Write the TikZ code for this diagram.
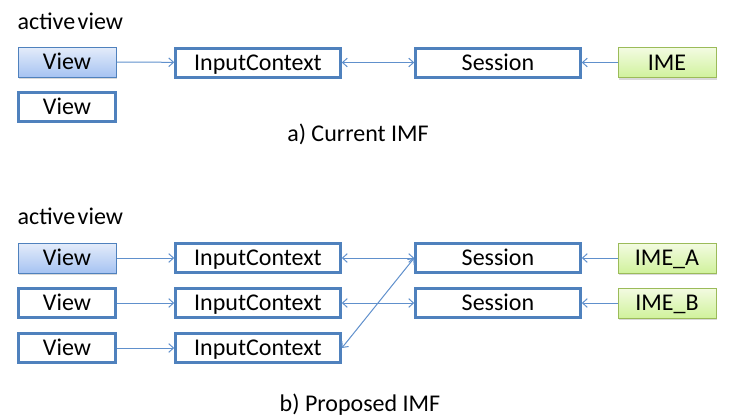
\documentclass[tikz,border=0pt]{standalone}
\usepackage{fontspec}
\setmainfont{Carlito}
\usetikzlibrary{arrows.meta,shadows}

\definecolor{boxblue}{HTML}{4F81BD}
\definecolor{linkblue}{HTML}{6090CC}
\definecolor{viewtop}{HTML}{E4ECFA}
\definecolor{viewbot}{HTML}{A6C3F2}
\definecolor{imetop}{HTML}{F3FBE2}
\definecolor{imebot}{HTML}{D0F29C}
\definecolor{imeline}{HTML}{9BBB59}

\tikzset{
  boxtext/.style={inner sep=0pt, text height=11.6pt, text depth=0pt},
  plainbox/.style={boxtext, draw=boxblue, line width=2.25pt, fill=white,
    minimum height=21.75pt},
  smallbox/.style={plainbox, minimum width=72.3pt},
  widebox/.style={plainbox, minimum width=123.5pt},
  activebox/.style={boxtext, draw=boxblue, line width=0.75pt, top color=viewtop,
    bottom color=viewbot, minimum width=73.5pt, minimum height=22.5pt,
    drop shadow={shadow xshift=1pt, shadow yshift=-1.5pt, opacity=0.3}},
  imebox/.style={boxtext, draw=imeline, line width=0.75pt, top color=imetop,
    bottom color=imebot, minimum width=73.5pt, minimum height=22.5pt,
    drop shadow={shadow xshift=1pt, shadow yshift=-1.5pt, opacity=0.3}},
  link/.style={draw=linkblue, line width=0.75pt},
  oneway/.style={link, -{Straight Barb[length=3.5pt,width=6.5pt]}},
  twoway/.style={link, {Straight Barb[length=3.5pt,width=6.5pt]}-{Straight Barb[length=3.5pt,width=6.5pt]}}
}

\begin{document}
\begin{tikzpicture}[x=0.75pt, y=-0.75pt, font=\fontsize{18}{21}\selectfont]
    \useasboundingbox (0,0) rectangle (735,418);

    % a) Current IMF
    \node[anchor=base west] (actA) at (13,29) {active\hspace{0.1em}view};
    \node[activebox] (viewA) at (67,62) {View};
    \node[smallbox] (viewB) at (67,107) {View};
    \node[widebox] (ctxA) at (258,62.5) {InputContext};
    \node[widebox] (sesA) at (498,62.5) {Session};
    \node[imebox] (ime) at (667,62.5) {IME};
    \node[anchor=base] (capA) at (358,141) {a) Current IMF};

    \draw[oneway] (viewA) -- (ctxA);
    \draw[twoway] (ctxA) -- (sesA);
    \draw[oneway] (ime) -- (sesA);

    % b) Proposed IMF
    \node[anchor=base west] (actB) at (13,224) {active\hspace{0.1em}view};
    \node[activebox] (viewP) at (67,258) {View};
    \node[smallbox] (viewQ) at (67,303) {View};
    \node[smallbox] (viewR) at (67,348) {View};
    \node[widebox] (ctxP) at (258,258) {InputContext};
    \node[widebox] (ctxQ) at (258,303) {InputContext};
    \node[widebox] (ctxR) at (258,348) {InputContext};
    \node[widebox] (sesP) at (498,258) {Session};
    \node[widebox] (sesQ) at (498,303) {Session};
    \node[imebox] (imeA) at (667,258) {IME\_A};
    \node[imebox] (imeB) at (667,303) {IME\_B};
    \node[anchor=base] (capB) at (360,411) {b) Proposed IMF};

    \draw[oneway] (viewP) -- (ctxP);
    \draw[oneway] (viewQ) -- (ctxQ);
    \draw[oneway] (viewR) -- (ctxR);
    \draw[twoway] (ctxP) -- (sesP);
    \draw[twoway] (ctxQ) -- (sesQ);
    \draw[twoway] (ctxR.east) -- (sesP.west);
    \draw[oneway] (imeA) -- (sesP);
    \draw[oneway] (imeB) -- (sesQ);
\end{tikzpicture}
\end{document}
